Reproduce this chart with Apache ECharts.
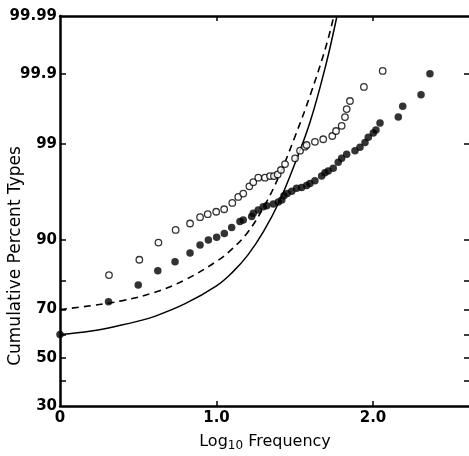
<!DOCTYPE html>
<html><head><meta charset="utf-8">
<script src="https://cdn.jsdelivr.net/npm/echarts@6/dist/echarts.min.js"></script>
<style>html,body{margin:0;padding:0;background:#fff}#c{width:469px;height:456px}</style>
</head><body><div id="c"></div>
<script>
// ---- data (x: log10 frequency, y: cumulative percent of types) ----
const filledLogFreq = [0, 0.310, 0.500, 0.625, 0.735, 0.831, 0.895, 0.948, 1.001, 1.050, 1.097, 1.150, 1.171, 1.225, 1.235, 1.267, 1.299, 1.321, 1.363, 1.395, 1.417, 1.431, 1.452, 1.481, 1.512, 1.544, 1.576, 1.597, 1.629, 1.672, 1.693, 1.714, 1.746, 1.778, 1.800, 1.832, 1.885, 1.917, 1.949, 1.970, 2.002, 2.019, 2.045, 2.162, 2.190, 2.307, 2.364];
const filledPct = [60, 72.9, 78.6, 82.8, 85.2, 87.3, 89.0, 90.0, 90.5, 91.2, 92.2, 93.1, 93.3, 93.8, 94.2, 94.6, 95.0, 95.1, 95.3, 95.5, 95.7, 96.1, 96.3, 96.5, 96.75, 96.8, 96.95, 97.1, 97.3, 97.6, 97.8, 97.9, 98.04, 98.33, 98.5, 98.66, 98.79, 98.9, 99.04, 99.18, 99.28, 99.34, 99.47, 99.56, 99.69, 99.79, 99.90];

const openLogFreq = [0.313, 0.507, 0.629, 0.739, 0.831, 0.895, 0.944, 0.998, 1.049, 1.101, 1.139, 1.171, 1.210, 1.235, 1.267, 1.310, 1.342, 1.367, 1.391, 1.412, 1.438, 1.502, 1.534, 1.565, 1.576, 1.629, 1.682, 1.740, 1.764, 1.800, 1.821, 1.832, 1.853, 1.942, 2.062];
const openPct = [81.6, 85.7, 89.5, 91.8, 92.8, 93.7, 94.1, 94.4, 94.7, 95.4, 96.0, 96.3, 96.9, 97.2, 97.5, 97.5, 97.6, 97.6, 97.7, 97.95, 98.25, 98.5, 98.79, 98.92, 98.97, 99.06, 99.13, 99.21, 99.32, 99.42, 99.56, 99.66, 99.74, 99.84, 99.91];

const dashedLogFreq = [0, 0.2, 0.4, 0.6, 0.8, 1.0, 1.1, 1.2, 1.3, 1.4, 1.5, 1.6, 1.7, 1.75];
const dashedPct = [70, 71.5, 73.3, 76.1, 80.2, 85.3, 88.2, 91.4, 94.9, 97.6, 99.18, 99.79, 99.965, 99.99];

const solidLogFreq = [0, 0.2, 0.4, 0.5, 0.6, 0.8, 1.0, 1.1, 1.2, 1.3, 1.4, 1.5, 1.6, 1.7, 1.77];
const solidPct = [60, 61.5, 64.0, 65.5, 67.3, 72.2, 78.3, 82.3, 86.8, 91.5, 95.5, 98.25, 99.5, 99.93, 99.99];

const yLabelPct = [30, 50, 70, 90, 99, 99.9, 99.99];
const yTickPct = [40, 50, 60, 70, 80, 90, 99, 99.9];
const xTicks = [0, 1, 2];

// ---- probability (normal) scale ----
function probit(p) {
  const a = [-3.969683028665376e+01, 2.209460984245205e+02, -2.759285104469687e+02, 1.383577518672690e+02, -3.066479806614716e+01, 2.506628277459239e+00];
  const b = [-5.447609879822406e+01, 1.615858368580409e+02, -1.556989798598866e+02, 6.680131188771972e+01, -1.328068155288572e+01];
  const c = [-7.784894002430293e-03, -3.223964580411365e-01, -2.400758277161838e+00, -2.549732518094225e+00, 4.374664141464968e+00, 2.938163982698783e+00];
  const d = [7.784695709041462e-03, 3.224671290700398e-01, 2.445134137142996e+00, 3.754408661907416e+00];
  const pl = 0.02425, ph = 1 - pl;
  let q, r;
  if (p < pl) {
    q = Math.sqrt(-2 * Math.log(p));
    return (((((c[0]*q+c[1])*q+c[2])*q+c[3])*q+c[4])*q+c[5]) / ((((d[0]*q+d[1])*q+d[2])*q+d[3])*q+1);
  } else if (p <= ph) {
    q = p - 0.5; r = q*q;
    return (((((a[0]*r+a[1])*r+a[2])*r+a[3])*r+a[4])*r+a[5])*q / (((((b[0]*r+b[1])*r+b[2])*r+b[3])*r+b[4])*r+1);
  } else {
    q = Math.sqrt(-2 * Math.log(1 - p));
    return -(((((c[0]*q+c[1])*q+c[2])*q+c[3])*q+c[4])*q+c[5]) / ((((d[0]*q+d[1])*q+d[2])*q+d[3])*q+1);
  }
}
const Z = pct => probit(pct / 100);
const pairs = (xs, ps) => xs.map((x, i) => [x, Z(ps[i])]);
const yMin = Z(yLabelPct[0]);
const yMax = Z(yLabelPct[yLabelPct.length - 1]);
function yLabel(v) {
  for (const p of yLabelPct) if (Math.abs(Z(p) - v) < 1e-6) return String(p);
  return '';
}

const FONT = 'DejaVu Sans';
const labelStyle = { color: '#000', fontFamily: FONT, fontWeight: 'bold', fontSize: 15 };
const axisLine = { show: true, onZero: false, lineStyle: { color: '#000', width: 2.5 } };
const tickStyle = { color: '#000', width: 1.5 };

const chart = echarts.init(document.getElementById('c'), null, { renderer: 'canvas' });
chart.setOption({
  animation: false,
  backgroundColor: '#fff',
  grid: { left: 60, top: 16, width: 410, height: 390, containLabel: false, outerBoundsMode: 'none' },
  xAxis: [{
    type: 'value', min: 0, max: 2.62, position: 'bottom',
    axisLine: axisLine,
    axisTick: { show: true, inside: true, length: 5, customValues: xTicks.slice(1), lineStyle: tickStyle },
    axisLabel: { customValues: xTicks, margin: 5, ...labelStyle, formatter: v => v === 0 ? '0' : v.toFixed(1) },
    splitLine: { show: false },
    name: 'Log{sub|10} Frequency', nameLocation: 'middle', nameGap: 26, nameMoveOverlap: false,
    nameTextStyle: { color: '#000', fontFamily: FONT, fontSize: 16,
      rich: { sub: { fontFamily: FONT, fontSize: 12, verticalAlign: 'bottom', padding: [8, 0, 0, 0], color: '#000' } } }
  }, {
    type: 'value', min: 0, max: 2.62, position: 'top',
    axisLine: axisLine,
    axisTick: { show: true, inside: true, length: 5, customValues: xTicks.slice(1), lineStyle: tickStyle },
    axisLabel: { show: false }, splitLine: { show: false }
  }],
  yAxis: [{
    type: 'value', min: yMin, max: yMax, position: 'left',
    axisLine: axisLine,
    axisTick: { show: true, inside: true, length: 6, customValues: yTickPct.map(Z), lineStyle: tickStyle },
    axisLabel: { customValues: yLabelPct.map(Z), margin: 3, ...labelStyle, formatter: yLabel },
    splitLine: { show: false },
    name: 'Cumulative Percent Types', nameLocation: 'middle', nameGap: 36, nameMoveOverlap: false,
    nameTextStyle: { color: '#000', fontFamily: FONT, fontSize: 17, padding: [0, 90, 0, 0] }
  }, {
    type: 'value', min: yMin, max: yMax, position: 'right',
    axisLine: { show: false, onZero: false },
    axisTick: { show: true, inside: true, length: 6, customValues: yTickPct.map(Z), lineStyle: tickStyle },
    axisLabel: { show: false }, splitLine: { show: false }
  }],
  series: [{
    type: 'line', data: pairs(solidLogFreq, solidPct), smooth: 0.4, showSymbol: false,
    lineStyle: { color: '#000', width: 1.5 }, z: 2
  }, {
    type: 'line', data: pairs(dashedLogFreq, dashedPct), smooth: 0.4, showSymbol: false,
    lineStyle: { color: '#000', width: 1.6, type: [7, 5] }, z: 2
  }, {
    type: 'scatter', data: pairs(openLogFreq, openPct), symbol: 'circle', symbolSize: 6.5,
    itemStyle: { color: '#fff', borderColor: '#000', borderWidth: 1.3 }, z: 3
  }, {
    type: 'scatter', data: pairs(filledLogFreq, filledPct), symbol: 'circle', symbolSize: 7.5,
    itemStyle: { color: '#000' }, z: 4
  }]
});
</script>
</body></html>
